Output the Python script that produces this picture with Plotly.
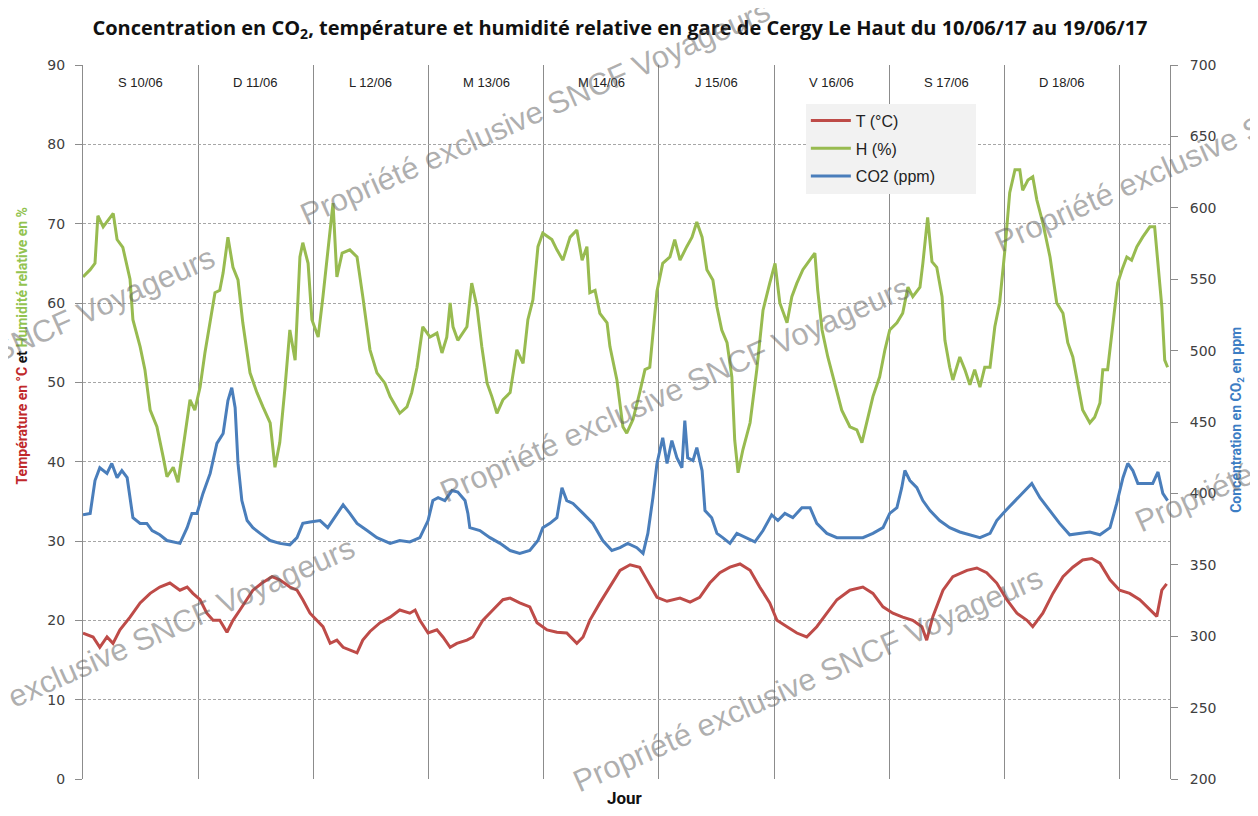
import plotly.graph_objects as go

# ---- data (hours since 10/06/17 00:00) ----
hours_T = [0, 2.1, 3.5, 5, 6.25, 7.7, 9.8, 11.9, 14, 16, 18.1, 20.2, 21.7, 22.9, 24.4, 25.8, 27.1, 28.5, 30,
           31.25, 32.7, 34.2, 35.4, 37.3, 39.4, 41, 43.1, 44.6, 45.8, 47.3, 48.75, 50, 51.5, 52.9, 54.2, 55.6,
           57.1, 58.3, 59.8, 61.9, 64, 66, 68.1, 69.2, 70.2, 71.9, 73.75, 75, 76.5, 77.9, 80, 81.25, 83.3, 85.4,
           87.5, 89, 91, 93.1, 94.6, 96.7, 98.75, 100.8, 102.9, 104.2, 105.6, 107.7, 109.8, 111.9, 114, 116,
           117.5, 119.6, 121.7, 124.4, 126.5, 128.5, 130.6, 132.7, 134.8, 136.9, 139, 141, 143.1, 144.6, 146.7,
           148.75, 150.8, 152.9, 155, 157.1, 159.8, 162.5, 164.6, 166.7, 168.75, 170.8, 172.9, 174.8, 175.8,
           177.1, 179.2, 181.25, 184.2, 186.25, 188.3, 190.4, 192.5, 194.6, 196.7, 197.9, 200, 202.1, 204.2,
           206.25, 208.3, 210.2, 211.9, 214, 216, 218.1, 220.2, 222.3, 223.75, 224.8, 225.8]
temp_T = [18.4, 17.9, 16.6, 17.9, 17.1, 18.8, 20.4, 22.2, 23.4, 24.2, 24.7, 23.8, 24.2, 23.4, 22.6, 20.9, 20, 20,
          18.5, 20, 21.3, 22.6, 23.8, 24.7, 25.5, 25.1, 24.2, 23.8, 22.6, 20.9, 20, 19.2, 17.1, 17.5, 16.6, 16.3,
          15.9, 17.5, 18.6, 19.7, 20.4, 21.3, 20.9, 21.3, 20, 18.4, 18.8, 17.9, 16.6, 17.1, 17.5, 17.9, 20, 21.3,
          22.6, 22.8, 22.2, 21.7, 19.7, 18.8, 18.5, 18.4, 17.1, 17.9, 20, 22.2, 24.2, 26.3, 27, 26.7,
          25.1, 22.9, 22.4, 22.8, 22.3, 22.9, 24.7, 26, 26.7, 27.1, 26.3, 24.2, 22.2, 20, 19.2,
          18.4, 17.9, 19.2, 20.9, 22.6, 23.8, 24.2, 23.4, 21.7, 20.9, 20.4, 20, 19.2, 17.5,
          20.5, 23.8, 25.5, 26.3, 26.6, 26, 24.7, 22.6, 20.9, 20, 19.2, 20.9, 23.4, 25.5,
          26.7, 27.6, 27.8, 27.2, 25.1, 23.8, 23.4, 22.6, 21.3, 20.5, 23.8, 24.6]

hours_H = [0, 1.5, 2.5, 3.1, 4.2, 6.3, 7.1, 8.3, 9.8, 10.4, 11.9, 12.9, 14, 15.4, 16.7, 17.5, 18.8, 19.8, 20.8,
           22.3, 23.3, 24.4, 25.4, 26.5, 27.5, 28.5, 29.2, 30.2, 31.25, 32.3, 33.3, 34.8, 36.25, 37.5, 39, 40,
           41, 42.1, 43.1, 44.2, 45.2, 45.8, 46.9, 47.7, 49, 50, 51.5, 52.1, 52.9, 54, 55.6, 57.1, 58.3, 59.8,
           61.25, 62.9, 64, 66, 67.5, 68.5, 69.6, 70.8, 72.3, 73.75, 74.8, 75.8, 76.5, 77.1, 78.1, 80, 81, 82.1,
           83.1, 84.2, 85.2, 86.25, 87.5, 89, 90.4, 91.7, 92.7, 93.75, 94.8, 95.8, 97.7, 98.75, 100, 101.5,
           102.9, 104, 105, 105.6, 106.7, 107.7, 109.2, 109.8, 111.25, 112.5, 113.3, 114.6, 116, 117.1, 118.1,
           119.6, 120.8, 122.3, 123.3, 124.4, 125.8, 126.9, 127.9, 129, 130, 131.25, 132.1, 133.1, 134.2,
           135.2, 135.8, 136.5, 137.5, 139, 140.4, 141.7, 143.1, 144.2, 145.2, 146.7, 147.7, 148.75, 150,
           151.5, 152.5, 153.1, 154, 155.2, 156.7, 158.1, 159.8, 161.25, 162.3, 163.5, 164.6, 166, 167.1,
           168.1, 169.6, 170.8, 171.9, 172.9, 174.4, 175, 176, 176.9, 177.9, 179, 179.6, 180.6, 181.25, 182.7,
           183.75, 184.8, 185.8, 186.9, 187.9, 189, 190, 191, 192.1, 193.1, 194.2, 195.2, 195.8, 196.9, 197.9,
           198.75, 200, 201.5, 202.9, 204.2, 205.2, 206.25, 207.3, 208.3, 209.8, 210.8, 211.9, 212.5, 213.5,
           214.6, 215.6, 216.5, 217.5, 218.5, 219.6, 220.8, 222.3, 223.3, 224, 224.8, 225.4, 226]
hum_H = [63.3, 64.2, 65, 71, 69.6, 71.3, 68, 67, 63, 57.9, 54.5, 51.6, 46.5, 44.4, 40.6, 38.1, 39.3, 37.4, 41.5,
         47.8, 46.5, 49.4, 53.7, 57.9, 61.3, 61.6, 63.8, 68.3, 64.5, 62.9, 57.5, 51.2, 48.7, 46.9, 44.9, 39.3,
         42.4, 49.4, 56.6, 52.8, 65.8, 67.6, 65, 57.9, 55.7, 60.8, 69.6, 72.6, 63.3, 66.3, 66.7, 65.8, 60.8, 54.1,
         51.2, 49.9, 48.2, 46.1, 46.9, 48.7, 51.9, 57, 55.7, 56.2, 53.7, 55.7, 60, 57, 55.3, 57, 62.5, 59.5,
         54.5, 49.9, 48.2, 46.1, 47.8, 48.7, 54.1, 52.4, 57.9, 60.4, 67.1, 68.8, 68, 66.7, 65.4, 68.3,
         69.2, 65.4, 67.1, 61.3, 61.6, 58.7, 57.5, 54.5, 50.3, 44.4, 43.6, 45.3, 48.7, 51.6, 51.9,
         61.5, 65, 65.8, 68, 65.4, 67.1, 68.3, 70.2, 68.3, 64.2, 62.9, 59.5, 56.6, 55,
         50.7, 42.7, 38.6, 41.5, 44.9, 51.6, 59.1, 62.5, 65, 60, 57.5, 60.8, 62.5, 64.2,
         65.4, 66.3, 61.6, 56.6, 53.2, 49.9, 46.5, 44.4, 44, 42.4, 45.6, 48.2, 50.7, 54.1,
         56.6, 57.5, 58.7, 62, 60.8, 62, 65, 70.8, 65.2, 64.5, 60.8, 55.3, 51.9, 50.3, 53.2,
         51.6, 49.7, 51.6, 49.4, 51.9, 51.9, 57, 60, 66.7, 73.9, 76.8, 76.8, 74.2, 75.5, 75.9,
         73, 70.1, 65.8, 60, 58.7, 55, 53.2, 49.9, 46.5, 44.9, 45.6, 47.4, 51.6, 51.6,
         57.5, 62.5, 64.2, 65.8, 65.4, 67.1, 68.3, 69.6, 69.6, 65, 59.5, 52.8, 51.9]

hours_C = [0, 1.5, 2.5, 3.5, 5, 6, 7.1, 8.1, 9.2, 9.8, 10.4, 11.9, 13.3, 14.4, 16, 17.5, 18.75, 20.2, 21.7,
           22.7, 23.75, 25, 26.5, 27.9, 29.2, 30.2, 31, 31.7, 32.3, 33.1, 34.2, 35.4, 36.9, 39, 41, 43.1, 44.6,
           45.8, 47.3, 49.4, 51, 52.9, 54.2, 55.6, 57.1, 59.2, 61.25, 64, 66, 68.1, 70.2, 71.9, 72.9, 74, 75.4,
           76.9, 78.1, 79.6, 80.2, 80.6, 82.7, 84.8, 86.9, 89, 91, 93.1, 94.8, 95.8, 97.3, 98.75, 99.8, 100.8,
           102.1, 104.2, 106.25, 108.3, 110.2, 111.9, 113.5, 115.4, 116.7, 117.7, 118.75, 119.6, 120.2, 120.8,
           121.7, 122.7, 123.75, 124.8, 125.4, 126, 127.1, 127.9, 129, 129.6, 131, 132.1, 133.3, 134.8,
           136.25, 138.3, 140, 141.7, 143.5, 144.8, 146.25, 147.9, 149.8, 151.5, 152.9, 155, 157.1, 159.8,
           162.5, 164.6, 166.7, 168.1, 169.6, 170.6, 171.25, 172.3, 173.75, 175, 176.5, 178.5, 180.6, 182.7,
           184.8, 186.9, 189, 190.4, 191.7, 193.75, 195.8, 197.7, 199.4, 201.5, 203.5, 205.6, 207.7, 209.8,
           211.9, 214, 215.4, 216.7, 217.7, 218.75, 219.8, 221.7, 222.9, 224, 225, 226]
co2_C = [385, 386, 409, 418, 414, 421, 411, 416, 411, 395, 383, 379, 379, 374, 371, 367, 366, 365, 376,
         386, 386, 400, 414, 435, 442, 465, 474, 460, 421, 395, 381, 376, 372, 367, 365, 364, 369,
         379, 380, 381, 376, 386, 392, 386, 379, 374, 369, 365, 367, 366, 369, 381, 395, 397, 395,
         402, 401, 395, 386, 376, 374, 369, 365, 360, 358, 360, 367, 376, 379, 383, 404, 395,
         393, 386, 379, 367, 360, 362, 365, 362, 358, 372, 397, 421, 430, 439,
         421, 437, 425, 418, 451, 425, 423, 432, 416, 388, 383, 372, 369, 365,
         372, 369, 366, 374, 385, 381, 386, 383, 390, 390, 379, 372, 369, 369,
         369, 372, 376, 386, 390, 404, 416, 409, 404, 395, 388, 381, 376, 373,
         371, 369, 372, 381, 386, 393, 400, 407, 397, 388, 379, 371, 372, 373,
         371, 376, 393, 411, 421, 416, 407, 407, 407, 415, 400, 395]

day_labels = ["S 10/06", "D 11/06", "L 12/06", "M 13/06", "M 14/06", "J 15/06", "V 16/06", "S 17/06", "D 18/06"]
day_starts = [0, 24, 48, 72, 96, 120, 144, 168, 192, 216]

RED = "#be4b48"
GREEN = "#98bb50"
BLUE = "#4a7ebb"
GRID = "#a6a6a6"
AXC = "#8c8c8c"

fig = go.Figure()
fig.add_trace(go.Scatter(x=hours_T, y=temp_T, name="T (°C)", mode="lines", legendgroup="t",
                         line=dict(color=RED, width=3)))
fig.add_trace(go.Scatter(x=hours_H, y=hum_H, name="H (%)", mode="lines", legendgroup="h",
                         line=dict(color=GREEN, width=3)))
fig.add_trace(go.Scatter(x=hours_C, y=co2_C, name="CO2 (ppm)" + "&nbsp;" * 8, mode="lines",
                         yaxis="y2", legendgroup="c", line=dict(color=BLUE, width=3)))

tickfont = dict(family="DejaVu Sans", size=14, color="#404040")

annotations = []
for k, lab in enumerate(day_labels):
    annotations.append(dict(x=day_starts[k] + 12, y=0.976, xref="x", yref="paper", text=lab,
                            showarrow=False, font=dict(family="Liberation Sans", size=13, color="#222"),
                            xanchor="center", yanchor="middle"))

annotations.append(dict(x=0.4986, y=-0.027, xref="paper", yref="paper", text="<b>Jour</b>",
                        showarrow=False, font=dict(family="Roboto", size=17, color="#111"),
                        xanchor="center", yanchor="middle"))

annotations.append(dict(x=-0.056, y=0.606, xref="paper", yref="paper", textangle=-90,
                        text="<b><span style='color:#c0282b'>Température en °C</span> et "
                             "<span style='color:#92c350'>Humidité relative en %</span></b>",
                        showarrow=False, font=dict(family="Roboto", size=14, color="#111"),
                        xanchor="center", yanchor="middle"))
annotations.append(dict(x=1.0616, y=0.503, xref="paper", yref="paper", textangle=-90,
                        text="<b>Concentration en CO<sub>2</sub> en ppm</b>",
                        showarrow=False, font=dict(family="Roboto", size=14, color="#3c7dc4"),
                        xanchor="center", yanchor="middle"))

wm = "Propriété exclusive SNCF Voyageurs"
for (wx, wy) in [(0.416, 0.934), (-0.095, 0.587), (0.545, 0.545), (1.055, 0.895), (0.034, 0.181),
                 (0.667, 0.139), (1.184, 0.503), (0.154, -0.204)]:
    annotations.append(dict(x=wx, y=wy, xref="paper", yref="paper", text=wm, textangle=-24,
                            showarrow=False, font=dict(family="Liberation Sans", size=31,
                                                       color="rgba(95,95,95,0.5)"),
                            xanchor="center", yanchor="middle"))

fig.update_layout(
    width=1250, height=808,
    margin=dict(l=75, r=88, t=57, b=37, autoexpand=False),
    paper_bgcolor="white", plot_bgcolor="white",
    title=dict(text="<b>Concentration en CO<sub>2</sub>, température et humidité relative en gare de "
                    "Cergy Le Haut du 10/06/17 au 19/06/17</b>",
               x=0.4896, y=0.975, xanchor="center", yanchor="middle",
               font=dict(family="Open Sans", size=20, color="#111")),
    xaxis=dict(range=[0, 226.5], tickvals=day_starts, showticklabels=False, ticks="",
               showgrid=True, gridcolor=AXC, gridwidth=1, zeroline=False, showline=False),
    yaxis=dict(range=[0, 90], dtick=10, ticks="outside", ticklen=7, tickcolor=AXC,
               showline=True, linecolor=AXC, linewidth=1, showgrid=True, gridcolor=GRID,
               griddash="3px,2px", zeroline=False, tickfont=tickfont, ticklabelstandoff=7),
    yaxis2=dict(range=[200, 700], dtick=50, overlaying="y", side="right", ticks="outside",
                ticklen=7, tickcolor=AXC, showline=True, linecolor=AXC, linewidth=1,
                showgrid=False, zeroline=False, tickfont=tickfont, ticklabelstandoff=9),
    legend=dict(x=0.665, y=0.946, xanchor="left", yanchor="top", bgcolor="#f2f2f2",
                font=dict(family="Liberation Sans", size=16, color="#222"),
                borderwidth=0, itemwidth=40, tracegroupgap=4),
    annotations=annotations,
    showlegend=True,
)

fig.write_html("out.html")
